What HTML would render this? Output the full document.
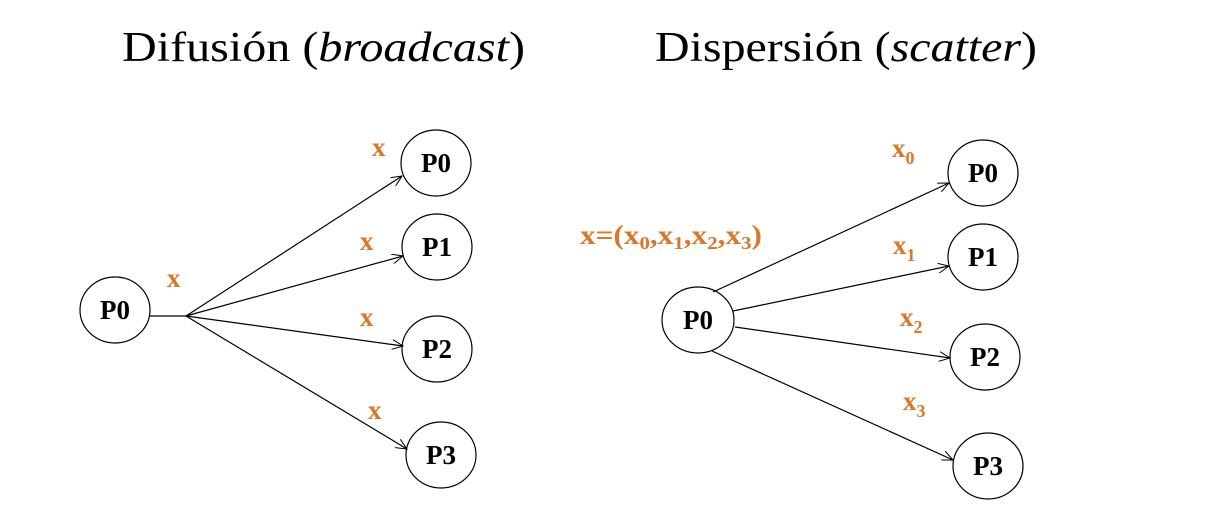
<!DOCTYPE html>
<html><head><meta charset="utf-8"><style>
body{margin:0;background:#fff;width:1226px;height:518px;overflow:hidden}
svg{display:block}
.t{font-family:"Liberation Serif",serif;font-size:42px;fill:#000}
.n{font-family:"Liberation Serif",serif;font-size:27px;font-weight:bold;fill:#000;text-anchor:middle}
.o{font-family:"Liberation Serif",serif;font-size:27px;font-weight:bold;fill:#d9772b}
.s{font-size:18px}
</style></head><body>
<svg width="1226" height="518">
<defs><marker id="a" markerWidth="12" markerHeight="10" refX="11" refY="5" orient="auto" markerUnits="userSpaceOnUse"><path d="M0,0 L11,5 L0,10" fill="none" stroke="#000" stroke-width="1"/></marker></defs>
<text class="t" x="122" y="61" textLength="403" lengthAdjust="spacingAndGlyphs">Difusión (<tspan font-style="italic">broadcast</tspan>)</text>
<text class="t" x="655" y="61" textLength="382" lengthAdjust="spacingAndGlyphs">Dispersión (<tspan font-style="italic">scatter</tspan>)</text>
<g stroke="#000" stroke-width="1.2" fill="none">
<line x1="150" y1="316" x2="186" y2="316"/>
<line x1="186" y1="316" x2="402" y2="176" marker-end="url(#a)"/>
<line x1="186" y1="316" x2="403" y2="256" marker-end="url(#a)"/>
<line x1="186" y1="316" x2="403" y2="346" marker-end="url(#a)"/>
<line x1="186" y1="316" x2="407" y2="449" marker-end="url(#a)"/>
<ellipse cx="115" cy="310" rx="35" ry="33"/>
<ellipse cx="436" cy="163" rx="35" ry="33"/>
<ellipse cx="437" cy="247" rx="35" ry="33"/>
<ellipse cx="437" cy="349" rx="35" ry="33"/>
<ellipse cx="441" cy="455" rx="35" ry="33"/>
</g>
<text class="n" x="115" y="319">P0</text>
<text class="n" x="436" y="172">P0</text>
<text class="n" x="437" y="256">P1</text>
<text class="n" x="437" y="358">P2</text>
<text class="n" x="441" y="464">P3</text>
<text class="o" x="167" y="287">x</text>
<text class="o" x="372" y="156">x</text>
<text class="o" x="360" y="250">x</text>
<text class="o" x="360" y="326">x</text>
<text class="o" x="368" y="419">x</text>
<g stroke="#000" stroke-width="1.2" fill="none">
<line x1="713" y1="292" x2="949" y2="183" marker-end="url(#a)"/>
<line x1="733" y1="311" x2="949" y2="266" marker-end="url(#a)"/>
<line x1="735" y1="327" x2="950" y2="358" marker-end="url(#a)"/>
<line x1="712" y1="351" x2="953" y2="460" marker-end="url(#a)"/>
<ellipse cx="698" cy="320" rx="36" ry="33"/>
<ellipse cx="983" cy="173" rx="35" ry="33"/>
<ellipse cx="983" cy="257" rx="35" ry="33"/>
<ellipse cx="985" cy="357" rx="35" ry="33"/>
<ellipse cx="988" cy="466" rx="35" ry="33"/>
</g>
<text class="n" x="698" y="329">P0</text>
<text class="n" x="983" y="182">P0</text>
<text class="n" x="983" y="266">P1</text>
<text class="n" x="985" y="366">P2</text>
<text class="n" x="988" y="475">P3</text>
<text class="o" x="580" y="244" textLength="182" lengthAdjust="spacingAndGlyphs">x=(x<tspan class="s" dy="5">0</tspan><tspan dy="-5">,x</tspan><tspan class="s" dy="5">1</tspan><tspan dy="-5">,x</tspan><tspan class="s" dy="5">2</tspan><tspan dy="-5">,x</tspan><tspan class="s" dy="5">3</tspan><tspan dy="-5">)</tspan></text>
<text class="o" x="892" y="157">x<tspan class="s" dy="7">0</tspan></text>
<text class="o" x="893" y="254">x<tspan class="s" dy="7">1</tspan></text>
<text class="o" x="900" y="326">x<tspan class="s" dy="7">2</tspan></text>
<text class="o" x="903" y="410">x<tspan class="s" dy="7">3</tspan></text>
</svg>
</body></html>
